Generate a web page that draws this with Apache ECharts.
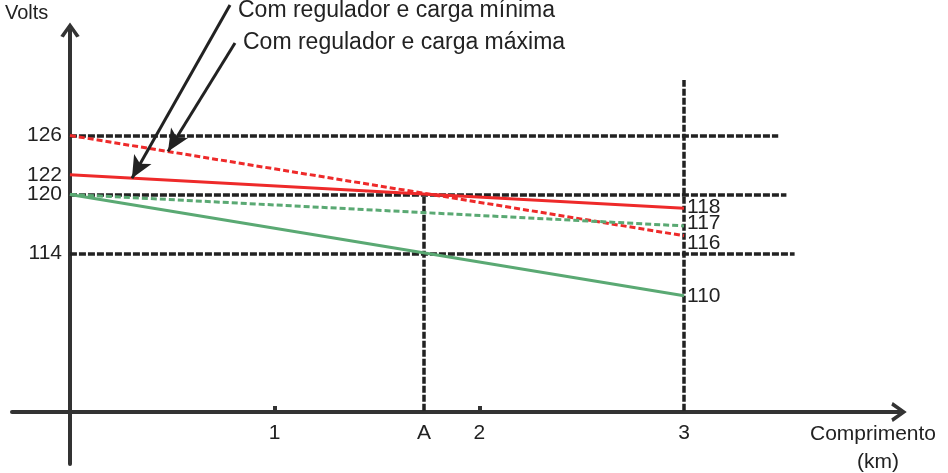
<!DOCTYPE html>
<html>
<head>
<meta charset="utf-8">
<script src="https://cdn.jsdelivr.net/npm/echarts@6/dist/echarts.min.js"></script>
<style>html,body{margin:0;padding:0;background:#fff}#c{width:948px;height:473px}</style>
</head>
<body>
<div id="c"></div>
<script>
// ---- data ----
const xValues = [0, 3];
const redSolid = [122, 118.6];     // Com regulador e carga mínima
const redDashed = [126, 115.8];    // Com regulador e carga máxima
const greenDashed = [120, 116.8];
const greenSolid = [120, 109.7];
const endLabels = ['118', '116', '117', '110']; // redSolid, redDashed, greenDashed, greenSolid
const yTickValues = [126, 122, 120, 114];
const xTickValues = [1, 1.73, 2, 3];
const xTickLabels = ['1', 'A', '2', '3'];
const pointA = 1.73;
const refLevels = [126, 120, 114];
const refLevelEnds = [3.46, 3.50, 3.54];
const annotationTexts = ['Com regulador e carga mínima', 'Com regulador e carga máxima'];
const annotationTipX = [0.303, 0.479];

const FONT = '"Liberation Sans", Arial, sans-serif';
const INK = '#222';
const RED = '#ee2a2a';
const GREEN = '#5aa973';
const Y_BOTTOM = 98;

function pairs(vals) { return xValues.map((x, i) => [x, vals[i]]); }
function valueAt(vals, x) {
  return vals[0] + (vals[1] - vals[0]) * (x - xValues[0]) / (xValues[1] - xValues[0]);
}
const chevron = 'path://M10,0 L20,14 L16.5,15.5 L10,6 L3.5,15.5 L0,14 Z';

function lineSeries(name, vals, color, dashed, label, dy) {
  return {
    name, type: 'line', data: pairs(vals), symbol: 'none', silent: true,
    lineStyle: { color, width: 3, type: dashed ? [6, 3] : 'solid' },
    endLabel: { show: true, formatter: label, color: INK, fontFamily: FONT, fontSize: 21,
      distance: 3, offset: [0, dy] },
    z: 3
  };
}

const refLines = [];
refLevels.forEach((v, i) => refLines.push([{ coord: [0, v] }, { coord: [refLevelEnds[i], v] }]));
refLines.push([{ coord: [3, Y_BOTTOM] }, { coord: [3, 131.65] }]);
refLines.push([{ coord: [pointA, Y_BOTTOM] }, { coord: [pointA, refLevels[1]] }]);

const chart = echarts.init(document.getElementById('c'), null, { renderer: 'canvas' });
chart.setOption({
  animation: false,
  backgroundColor: '#fff',
  grid: { left: 12, right: 49, top: 30, bottom: 9, containLabel: false, outerBoundsMode: 'none' },
  xAxis: {
    type: 'value', min: -0.283, max: 4.05, offset: -52,
    splitLine: { show: false },
    axisLine: { onZero: false, lineStyle: { color: '#333', width: 4 },
      symbol: ['none', chevron], symbolSize: [20, 18] },
    axisTick: { show: true, inside: true, length: 6, customValues: [1, 2],
      lineStyle: { color: '#333', width: 4 } },
    axisLabel: { customValues: xTickValues, margin: 11, color: INK, fontFamily: FONT, fontSize: 21,
      formatter: v => { const i = xTickValues.findIndex(t => Math.abs(t - v) < 1e-6); return i >= 0 ? xTickLabels[i] : ''; } }
  },
  yAxis: {
    type: 'value', min: 92.58, max: 136.73, offset: -58,
    splitLine: { show: false },
    axisLine: { onZero: false, lineStyle: { color: '#333', width: 4 },
      symbol: ['none', chevron], symbolSize: [20, 15] },
    axisTick: { show: false },
    axisLabel: { customValues: yTickValues, margin: 8, color: INK, fontFamily: FONT, fontSize: 21 }
  },
  series: [
    lineSeries('redSolid', redSolid, RED, false, endLabels[0], -1),
    lineSeries('redDashed', redDashed, RED, true, endLabels[1], 7),
    lineSeries('greenDashed', greenDashed, GREEN, true, endLabels[2], -3),
    lineSeries('greenSolid', greenSolid, GREEN, false, endLabels[3], 0),
    {
      name: 'refs', type: 'line', data: [], silent: true,
      markLine: { silent: true, symbol: 'none', label: { show: false },
        lineStyle: { color: INK, width: 3.5, type: [7, 2] }, data: refLines, z: 2 }
    },
    {
      name: 'arrows', type: 'line', data: [], silent: true,
      markLine: { silent: true, symbol: ['none', 'arrow'], symbolSize: [15, 22], label: { show: false },
        lineStyle: { color: INK, width: 3, type: 'solid' },
        data: [
          [{ x: 230, y: 5 }, { coord: [annotationTipX[0], valueAt(redSolid, annotationTipX[0])] }],
          [{ x: 235, y: 43 }, { coord: [annotationTipX[1], valueAt(redDashed, annotationTipX[1])] }]
        ], z: 5 }
    }
  ],
  graphic: [
    { type: 'text', left: 5, top: 3, style: { text: 'Volts', font: '20px ' + FONT, fill: INK } },
    { type: 'text', x: 238, y: 11, style: { text: annotationTexts[0], font: '23px ' + FONT, fill: INK, verticalAlign: 'middle' } },
    { type: 'text', x: 243, y: 43, style: { text: annotationTexts[1], font: '23px ' + FONT, fill: INK, verticalAlign: 'middle' } },
    { type: 'text', x: 810, y: 434, style: { text: 'Comprimento', font: '21px ' + FONT, fill: INK, verticalAlign: 'middle' } },
    { type: 'text', x: 878, y: 462, style: { text: '(km)', font: '21px ' + FONT, fill: INK, align: 'center', verticalAlign: 'middle' } }
  ]
});
</script>
</body>
</html>
